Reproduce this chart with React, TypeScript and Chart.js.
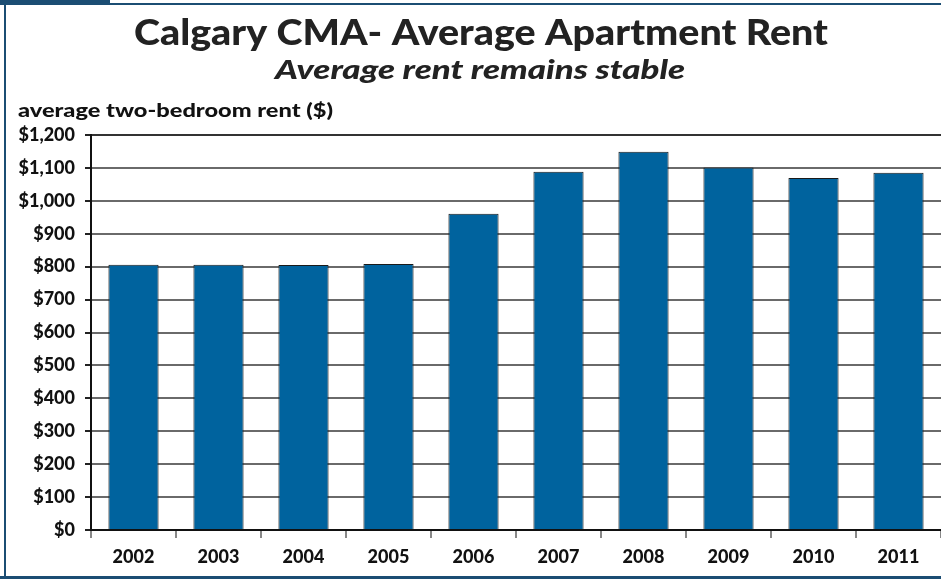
import React, { useEffect, useRef } from "react";
import { Chart, registerables } from "chart.js";

Chart.register(...registerables);

const years = ["2002", "2003", "2004", "2005", "2006", "2007", "2008", "2009", "2010", "2011"];
const rents = [806, 806, 805, 808, 961, 1088, 1149, 1101, 1069, 1085];
const titleText = "Calgary CMA- Average Apartment Rent";
const subtitleText = "Average rent remains stable";
const axisCaption = "average two-bedroom rent ($)";

const FRAME = "#1b4d73";
const FONT = "Lato, 'Open Sans', sans-serif";

function fitText(ctx: any, text: string, x: number, y: number, width: number, align: string) {
  const w = ctx.measureText(text).width;
  const sx = width / w;
  ctx.save();
  const left = align === "center" ? x - width / 2 : x;
  ctx.translate(left, y);
  ctx.scale(sx, 1);
  ctx.textAlign = "left";
  ctx.fillText(text, 0, 0);
  ctx.restore();
}

const framePlugin = {
  id: "frameAndText",
  beforeDraw(chart: any) {
    const { ctx, width, height } = chart;
    ctx.save();
    ctx.fillStyle = "#ffffff";
    ctx.fillRect(0, 0, width, height);
    ctx.fillStyle = FRAME;
    ctx.fillRect(0, 0, 110, 5);
    ctx.fillRect(0, 3, width, 2);
    ctx.fillRect(4, 0, 2, height);
    ctx.fillRect(0, height - 3, width, 3);
    ctx.restore();
  },
  afterDraw(chart: any) {
    const { ctx } = chart;
    ctx.save();
    ctx.fillStyle = "#222222";
    ctx.textBaseline = "alphabetic";
    ctx.font = `900 36px ${FONT}`;
    fitText(ctx, titleText, 481, 45, 694, "center");
    ctx.font = `italic 900 26px ${FONT}`;
    fitText(ctx, subtitleText, 480, 79, 410, "center");
    ctx.fillStyle = "#111111";
    ctx.font = `900 19px ${FONT}`;
    fitText(ctx, axisCaption, 18, 117, 315, "left");
    ctx.restore();
  },
};

export default function App() {
  const ref = useRef<HTMLCanvasElement>(null);
  useEffect(() => {
    document.body.style.margin = "0";
    const chart = new Chart(ref.current as HTMLCanvasElement, {
      type: "bar",
      data: {
        labels: years,
        datasets: [
          {
            data: rents,
            backgroundColor: "#00639e",
            borderColor: "#1a1a1a",
            borderWidth: 1,
            barPercentage: 0.59,
            categoryPercentage: 1,
          },
        ],
      },
      options: {
        responsive: false,
        animation: false,
        layout: { padding: { top: 135, left: 0, right: 0, bottom: 0 } },
        plugins: { legend: { display: false }, tooltip: { enabled: false }, title: { display: false } },
        scales: {
          x: {
            afterFit: (s: any) => {
              s.height = 49;
            },
            grid: {
              offset: true,
              drawOnChartArea: false,
              drawTicks: true,
              tickLength: 8,
              color: "#888888",
              lineWidth: 2,
            },
            border: { display: true, color: "#111111", width: 2 },
            ticks: {
              color: "#111111",
              font: { family: FONT, size: 18, weight: "900" },
              padding: 8,
            },
          },
          y: {
            min: 0,
            max: 1200,
            afterFit: (s: any) => {
              s.width = 91;
            },
            grid: {
              color: (c: any) => (c.tick && c.tick.value === 1200 ? "#333333" : "#6a6a6a"),
              lineWidth: 2,
              tickLength: 6,
              tickColor: "#222222",
            },
            border: { display: true, color: "#111111", width: 2 },
            ticks: {
              stepSize: 100,
              color: "#111111",
              font: { family: FONT, size: 18, weight: "900" },
              padding: 10,
              callback: (v: any) => "$" + Number(v).toLocaleString("en-US"),
            },
          },
        },
      },
      plugins: [framePlugin],
    });
    return () => chart.destroy();
  }, []);
  return <canvas ref={ref} width={941} height={579} style={{ display: "block" }} />;
}
